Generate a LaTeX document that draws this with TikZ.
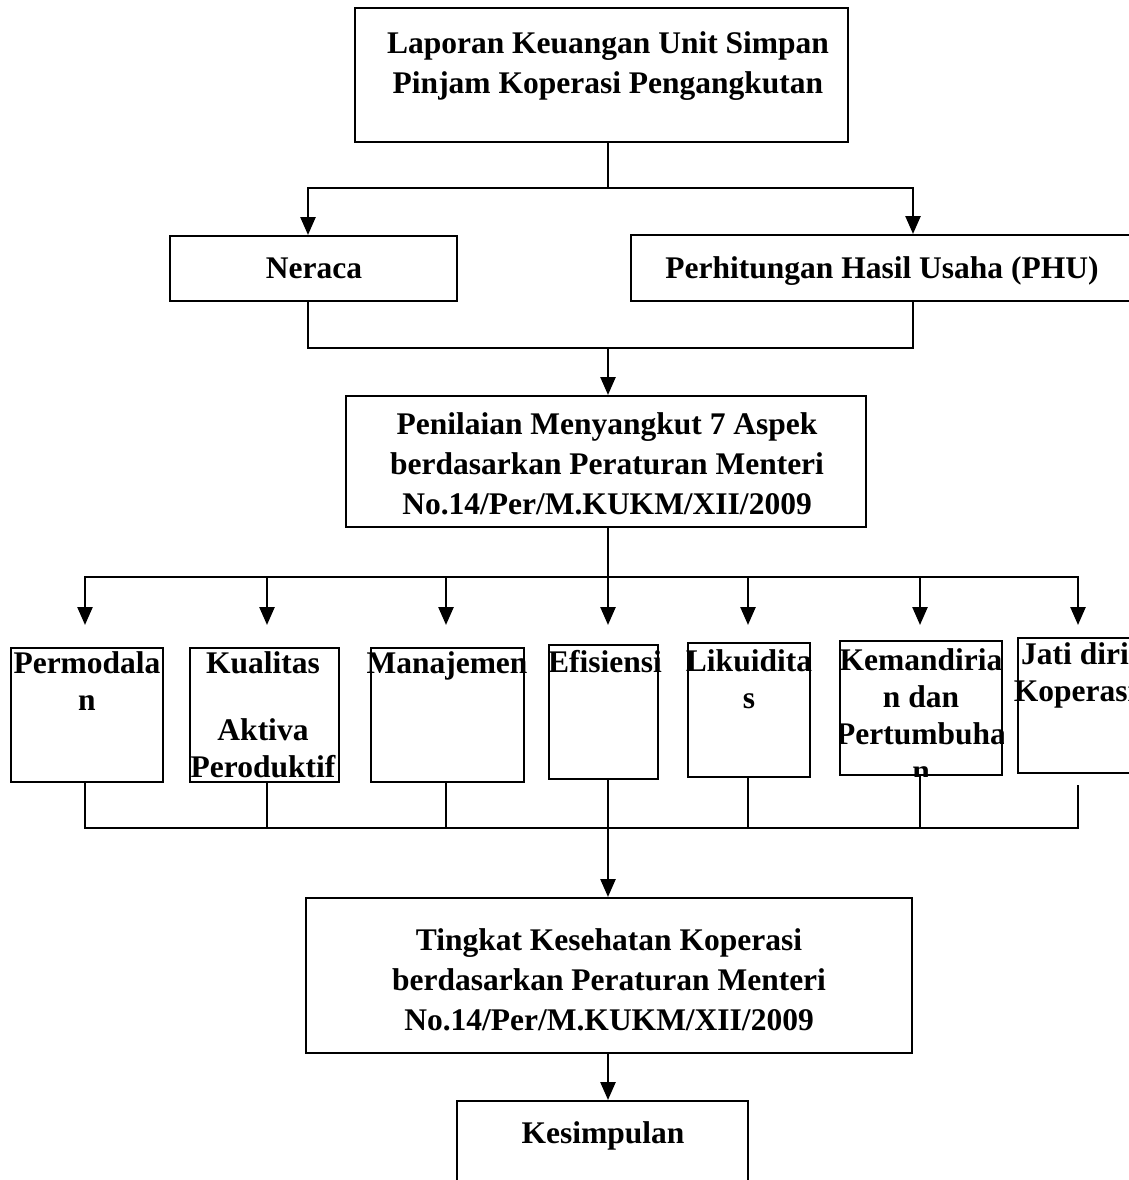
\documentclass[tikz,border=0pt]{standalone}
\usepackage{fontspec}
\setmainfont{Liberation Serif}
\usetikzlibrary{arrows.meta,calc}
\begin{document}
\begin{tikzpicture}[x=1pt,y=-1pt,
  box/.style={draw,line width=2pt,inner sep=0pt},
  txt/.style={inner sep=0pt,align=center,font=\fontsize{31.5}{40}\selectfont\bfseries},
  stxt/.style={txt,font=\fontsize{31.5}{37}\selectfont\bfseries},
  conn/.style={line width=2.5pt},
  arr/.style={conn,-{Triangle[width=15pt,length=18pt]}}]
\useasboundingbox (0,0) rectangle (1129,1180);

% boxes
\node[box,minimum width=493pt,minimum height=134pt] (top) at (601.5,75) {};
\node[box,minimum width=287pt,minimum height=65pt] (ner) at (313.5,268.5) {};
\node[box,minimum width=509pt,minimum height=66pt] (phu) at (885.5,268) {};
\node[box,minimum width=520pt,minimum height=131pt] (pen) at (606,461.5) {};
\node[box,minimum width=152pt,minimum height=134pt] (perm) at (87,715) {};
\node[box,minimum width=149pt,minimum height=134pt] (kual) at (264.5,715) {};
\node[box,minimum width=153pt,minimum height=134pt] (man) at (447.5,715) {};
\node[box,minimum width=109pt,minimum height=134pt] (efi) at (603.5,712) {};
\node[box,minimum width=122pt,minimum height=134pt] (lik) at (749,710) {};
\node[box,minimum width=162pt,minimum height=134pt] (kem) at (921,708) {};
\node[box,minimum width=122pt,minimum height=135pt] (jati) at (1079,705.5) {};
\node[box,minimum width=606pt,minimum height=155pt] (ting) at (609,975.5) {};
\node[box,minimum width=291pt,minimum height=99pt] (kes) at (602.5,1150.5) {};

% texts
\node[txt] (toptx) at (608,66.5) {Laporan Keuangan Unit Simpan\\Pinjam Koperasi Pengangkutan};
\node[txt,anchor=base] (nertx) at (314,278.5) {Neraca};
\node[txt,anchor=base] (phutx) at (882,278) {Perhitungan Hasil Usaha (PHU)};
\node[txt] (pentx) at (607,464) {Penilaian Menyangkut 7 Aspek\\berdasarkan Peraturan Menteri\\No.14/Per/M.KUKM/XII/2009};
\node[stxt] (permtx) at (87,681.5) {Permodala\\n};
\node[stxt] (kualtxa) at (263,663) {Kualitas};
\node[stxt] (kualtxb) at (263,748) {Aktiva\\Peroduktif};
\node[stxt,anchor=base] (mantx) at (447,673) {Manajemen};
\node[stxt] (efitx) at (605,662) {Efisiensi};
\node[stxt] (liktx) at (749,679) {Likuidita\\s};
\begin{scope}
\clip (kem.south west) rectangle (kem.north east);
\node[stxt] (kemtx) at (921,715) {Kemandiria\\n dan\\Pertumbuha\\n};
\end{scope}
\node[stxt] (jatitx) at (1075,675) {Jati diri\\Koperasi};
\node[txt] (tingtx) at (609,980) {Tingkat Kesehatan Koperasi\\berdasarkan Peraturan Menteri\\No.14/Per/M.KUKM/XII/2009};
\node[txt,anchor=base] (kestx) at (603,1143) {Kesimpulan};

% level 1
\coordinate (j1) at (608,188);
\coordinate (n1) at (308,188);
\coordinate (p1) at (913,188);
\draw[conn] (top.south -| j1) -- (j1);
\draw[arr] (j1) -| (n1 |- ner.north);
\draw[arr] (j1) -| (p1 |- phu.north);

% level 2
\coordinate (j2) at (608,348);
\coordinate (n2) at (308,348);
\coordinate (p2) at (913,348);
\draw[conn] (n2 |- ner.south) |- (j2);
\draw[conn] (p2 |- phu.south) |- (j2);
\draw[arr] (j2) -- (j2 |- pen.north);

% level 3
\coordinate (j3) at (608,577);
\draw[conn] (j3 |- pen.south) -- (j3);
\draw[conn,line cap=rect] (85,577) -- (1078,577);
\foreach \xx/\nm in {85/a1,267/a2,446/a3,608/a4,748/a5,920/a6,1078/a7}{
  \coordinate (\nm t) at (\xx,577);
  \coordinate (\nm b) at (\xx,625);
  \draw[arr] (\nm t) -- (\nm b);
}

% level 4
\coordinate (j4) at (608,828);
\coordinate (b1) at (85,828);
\coordinate (b2) at (267,828);
\coordinate (b3) at (446,828);
\coordinate (b5) at (748,828);
\coordinate (b6) at (920,828);
\coordinate (b7) at (1078,828);
\draw[conn] (b1 |- perm.south) |- (b7) -- (b7 |- 0,785);
\draw[conn] (b2 |- kual.south) -- (b2);
\draw[conn] (b3 |- man.south) -- (b3);
\draw[conn] (b5 |- lik.south) -- (b5);
\draw[conn] (b6 |- kem.south) -- (b6);
\draw[arr] (j4 |- efi.south) -- (j4 |- ting.north);

% level 5
\draw[arr] (j4 |- ting.south) -- (j4 |- kes.north);
\end{tikzpicture}
\end{document}
